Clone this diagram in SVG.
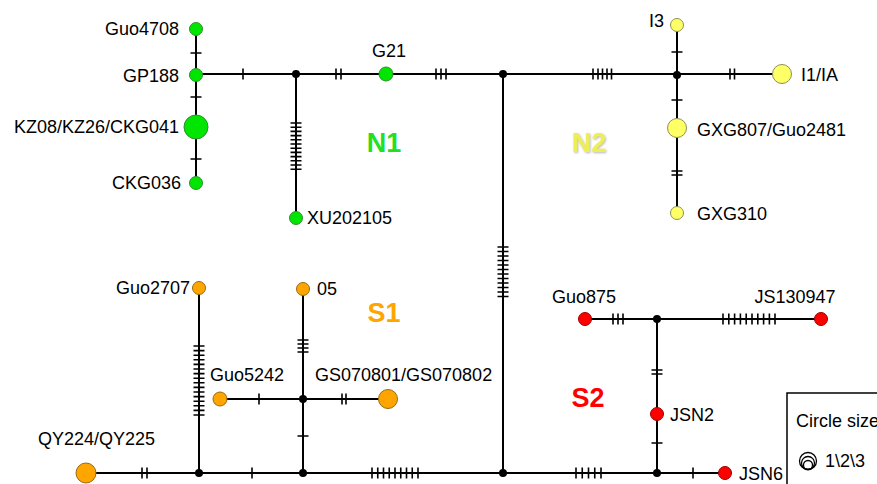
<svg xmlns="http://www.w3.org/2000/svg" width="877" height="484" viewBox="0 0 877 484">
<defs>
<style>
.e{fill:none;stroke:#000;stroke-width:2}
.t{fill:none;stroke:#000;stroke-width:1.6}
.lb{font-family:"Liberation Sans",Arial,sans-serif;font-size:18px;fill:#000}
.grp{font-family:"Liberation Sans",Arial,sans-serif;font-size:27px;font-weight:bold}
.g{fill:#00e600;stroke:#2f8f2f;stroke-width:1}
.y{fill:#ffff66;stroke:#8f8f55;stroke-width:1}
.o{fill:#ffa500;stroke:#9a6a10;stroke-width:1}
.r{fill:#ff0000;stroke:#990000;stroke-width:1}
.k{fill:#000}
</style>
<filter id="sh" x="-20%" y="-20%" width="140%" height="140%">
<feDropShadow dx="1" dy="1" stdDeviation="1" flood-color="#999" flood-opacity="0.7"/>
</filter>
</defs>
<rect width="877" height="484" fill="#fff"/>
<g id="connectors">
<path class="e" d="M196 29V183M196 74H782M296 74V218M677 25V213M503 74V473M86 473H725M199 288V473M303 289V473M219 399H388M585 319H821M657 319V473"/>
<path class="t" d="M243 68.5v11M336 68.5v11M341 68.5v11M436 68.5v11M441 68.5v11M446 68.5v11M593 68.5v11M598 68.5v11M602.5 68.5v11M607 68.5v11M611.5 68.5v11M730 68.5v11M734.5 68.5v11"/>
<path class="t" d="M190.5 53h11M190.5 97h11M190.5 159h11"/>
<path class="t" d="M290.5 123h11M290.5 127.2h11M290.5 131.4h11M290.5 135.6h11M290.5 139.8h11M290.5 144h11M290.5 148.2h11M290.5 152.4h11M290.5 156.6h11M290.5 160.8h11M290.5 165h11M290.5 169.2h11"/>
<path class="t" d="M671.5 52h11M671.5 100h11M671.5 171h11M671.5 175h11"/>
<path class="t" d="M497.5 247h11M497.5 251.5h11M497.5 256h11M497.5 260.5h11M497.5 265h11M497.5 269.5h11M497.5 274h11M497.5 278.5h11M497.5 283h11M497.5 287.5h11M497.5 292h11M497.5 296.5h11"/>
<path class="t" d="M193.5 346h11M193.5 350.6h11M193.5 355.2h11M193.5 359.8h11M193.5 364.4h11M193.5 369h11M193.5 373.6h11M193.5 378.2h11M193.5 382.8h11M193.5 387.4h11M193.5 392h11M193.5 396.6h11M193.5 401.2h11M193.5 405.8h11M193.5 410.4h11M193.5 415h11"/>
<path class="t" d="M297.5 340h11M297.5 344h11M297.5 348h11M297.5 352h11M297.5 436h11"/>
<path class="t" d="M142 467.5v11M147 467.5v11M252 467.5v11M372 467.5v11M377.75 467.5v11M383.5 467.5v11M389.25 467.5v11M395 467.5v11M400.75 467.5v11M406.5 467.5v11M412.25 467.5v11M418 467.5v11M576 467.5v11M582.25 467.5v11M588.5 467.5v11M594.75 467.5v11M601 467.5v11M693 467.5v11"/>
<path class="t" d="M259 393.5v11M342 393.5v11M346 393.5v11"/>
<path class="t" d="M613 313.5v11M618 313.5v11M623 313.5v11M723 313.5v11M728.8 313.5v11M734.6 313.5v11M740.4 313.5v11M746.2 313.5v11M752 313.5v11M757.8 313.5v11M763.6 313.5v11M769.4 313.5v11M775 313.5v11"/>
<path class="t" d="M651.5 370h11M651.5 374h11M651.5 443h11"/>
</g>
<g id="median-vectors">
<circle class="k" cx="296" cy="74" r="4"/>
<circle class="k" cx="503" cy="74" r="4"/>
<circle class="k" cx="677" cy="75" r="4"/>
<circle class="k" cx="199" cy="473" r="4"/>
<circle class="k" cx="303" cy="473" r="4"/>
<circle class="k" cx="503" cy="473" r="4"/>
<circle class="k" cx="657" cy="473" r="4"/>
<circle class="k" cx="303" cy="399" r="4"/>
<circle class="k" cx="657" cy="319" r="4"/>
</g>
<g id="Guo4708"><circle class="g" cx="196" cy="29" r="6.5"/><text class="lb" x="179" y="35" text-anchor="end">Guo4708</text></g>
<g id="GP188"><circle class="g" cx="196" cy="75" r="6.5"/><text class="lb" x="179" y="82" text-anchor="end">GP188</text></g>
<g id="KZ08"><circle class="g" cx="196" cy="127" r="12"/><text class="lb" x="179" y="133" text-anchor="end">KZ08/KZ26/CKG041</text></g>
<g id="CKG036"><circle class="g" cx="196" cy="183" r="6.5"/><text class="lb" x="181" y="189" text-anchor="end">CKG036</text></g>
<g id="G21"><circle class="g" cx="386" cy="74" r="7"/><text class="lb" x="389" y="57" text-anchor="middle">G21</text></g>
<g id="XU202105"><circle class="g" cx="296" cy="218" r="6.5"/><text class="lb" x="307" y="224">XU202105</text></g>
<g id="I3"><circle class="y" cx="677" cy="25" r="6.5"/><text class="lb" x="664" y="27" text-anchor="end">I3</text></g>
<g id="I1"><circle class="y" cx="782" cy="74" r="9.5"/><text class="lb" x="801" y="81">I1/IA</text></g>
<g id="GXG807"><circle class="y" cx="677" cy="128" r="9.5"/><text class="lb" x="697" y="136">GXG807/Guo2481</text></g>
<g id="GXG310"><circle class="y" cx="677" cy="213" r="6.5"/><text class="lb" x="697" y="220">GXG310</text></g>
<g id="Guo2707"><circle class="o" cx="199" cy="288" r="6.5"/><text class="lb" x="190" y="294" text-anchor="end">Guo2707</text></g>
<g id="n05"><circle class="o" cx="303" cy="289" r="6.5"/><text class="lb" x="317" y="295">05</text></g>
<g id="Guo5242"><circle class="o" cx="220" cy="399" r="7"/><text class="lb" x="210" y="381">Guo5242</text></g>
<g id="GS070801"><circle class="o" cx="388" cy="399" r="9.5"/><text class="lb" x="315" y="381">GS070801/GS070802</text></g>
<g id="QY224"><circle class="o" cx="86" cy="473" r="10"/><text class="lb" x="38" y="445">QY224/QY225</text></g>
<g id="Guo875"><circle class="r" cx="585" cy="319" r="6.5"/><text class="lb" x="584" y="303" text-anchor="middle">Guo875</text></g>
<g id="JS130947"><circle class="r" cx="821" cy="319" r="6.5"/><text class="lb" x="795" y="303" text-anchor="middle">JS130947</text></g>
<g id="JSN2"><circle class="r" cx="657" cy="414" r="6.5"/><text class="lb" x="670" y="421">JSN2</text></g>
<g id="JSN6"><circle class="r" cx="725" cy="473" r="6.5"/><text class="lb" x="739" y="480">JSN6</text></g>
<g id="groups">
<text class="grp" x="384" y="152" text-anchor="middle" fill="#22e022">N1</text>
<text class="grp" x="589" y="152" text-anchor="middle" fill="#eeee55" filter="url(#sh)">N2</text>
<text class="grp" x="384" y="322" text-anchor="middle" fill="#ffa500">S1</text>
<text class="grp" x="588" y="407" text-anchor="middle" fill="#ff0000">S2</text>
</g>
<g id="legend">
<rect x="787" y="393" width="110" height="110" fill="#fff" stroke="#000" stroke-width="1.5"/>
<text class="lb" x="796" y="427">Circle size</text>
<circle cx="808" cy="461" r="8.5" fill="none" stroke="#000" stroke-width="1.3"/>
<circle cx="808" cy="463" r="6.5" fill="none" stroke="#000" stroke-width="1.3"/>
<circle cx="808" cy="465" r="4.5" fill="none" stroke="#000" stroke-width="1.3"/>
<text class="lb" x="825" y="467" font-size="16">1\2\3</text>
</g>
</svg>
